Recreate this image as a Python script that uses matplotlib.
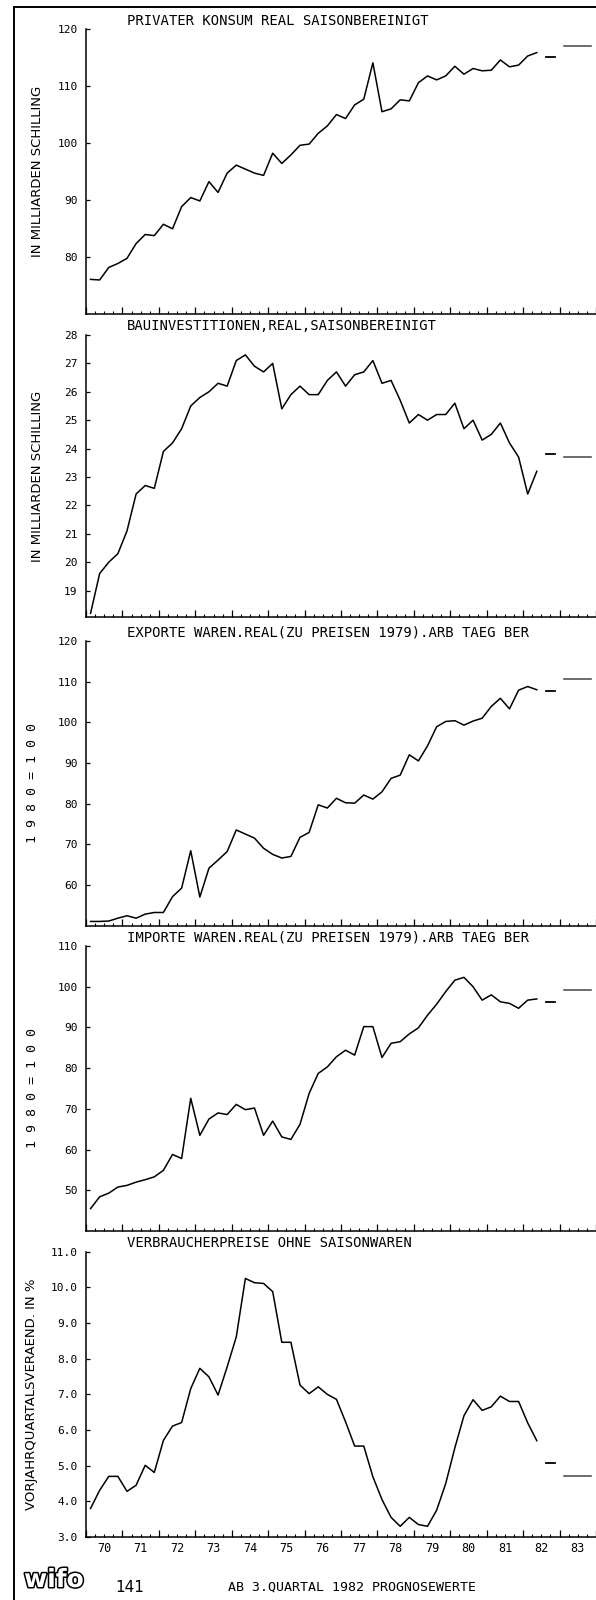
import numpy as np
import matplotlib.pyplot as plt
from matplotlib.lines import Line2D
import matplotlib.patheffects as pe

W, H = 596, 1600
MONO = "DejaVu Sans Mono"

# ── Data: quarterly values 1970Q1 .. 1982Q2 ───────────────────────────────────
konsum = [76.0, 75.9, 78.1, 78.8, 79.7, 82.3, 83.9, 83.7, 85.7, 84.9,
          88.8, 90.4, 89.8, 93.2, 91.3, 94.7, 96.1, 95.4, 94.7, 94.3,
          98.2, 96.4, 97.9, 99.6, 99.8, 101.7, 103.0, 105.0, 104.3, 106.7,
          107.7, 114.1, 105.5, 106.0, 107.6, 107.4, 110.6, 111.8, 111.1, 111.8,
          113.5, 112.1, 113.1, 112.7, 112.8, 114.6, 113.4, 113.7, 115.3, 115.9]
bau = [18.2, 19.6, 20.0, 20.3, 21.1, 22.4, 22.7, 22.6, 23.9, 24.2,
       24.7, 25.5, 25.8, 26.0, 26.3, 26.2, 27.1, 27.3, 26.9, 26.7,
       27.0, 25.4, 25.9, 26.2, 25.9, 25.9, 26.4, 26.7, 26.2, 26.6,
       26.7, 27.1, 26.3, 26.4, 25.7, 24.9, 25.2, 25.0, 25.2, 25.2,
       25.6, 24.7, 25.0, 24.3, 24.5, 24.9, 24.2, 23.7, 22.4, 23.2]
exporte = [51.0, 51.0, 51.1, 51.8, 52.4, 51.8, 52.8, 53.2, 53.2, 57.1,
           59.2, 68.4, 57.0, 64.1, 66.1, 68.2, 73.5, 72.5, 71.5, 69.0,
           67.5, 66.6, 67.0, 71.7, 72.9, 79.7, 78.9, 81.3, 80.2, 80.1,
           82.1, 81.1, 82.9, 86.2, 87.0, 92.0, 90.5, 94.2, 98.9, 100.2,
           100.4, 99.3, 100.3, 101.0, 103.9, 105.9, 103.3, 107.9, 108.8, 108.0]
importe = [45.5, 48.4, 49.3, 50.8, 51.2, 52.0, 52.6, 53.3, 54.9, 58.8,
           57.8, 72.6, 63.5, 67.5, 69.0, 68.6, 71.1, 69.8, 70.2, 63.5,
           67.0, 63.1, 62.5, 66.2, 73.8, 78.7, 80.3, 82.8, 84.4, 83.2,
           90.2, 90.2, 82.6, 86.1, 86.5, 88.4, 89.9, 93.0, 95.7, 98.8,
           101.6, 102.3, 100.0, 96.7, 98.0, 96.3, 95.9, 94.7, 96.7, 97.0]
vpi = [3.80, 4.31, 4.70, 4.70, 4.28, 4.45, 5.01, 4.81, 5.71, 6.11,
       6.21, 7.16, 7.73, 7.49, 6.98, 7.77, 8.61, 10.25, 10.13, 10.11,
       9.88, 8.46, 8.46, 7.26, 7.02, 7.21, 7.00, 6.86, 6.23, 5.55,
       5.55, 4.69, 4.05, 3.55, 3.30, 3.55, 3.35, 3.30, 3.75, 4.50,
       5.50, 6.40, 6.85, 6.55, 6.65, 6.95, 6.80, 6.80, 6.20, 5.70]

# forecast levels: 2nd half 1982, year 1983
konsum_fc = [115.1, 117.1]
bau_fc = [23.8, 23.7]
exporte_fc = [107.7, 110.6]
importe_fc = [96.3, 99.3]
vpi_fc = [5.08, 4.72]

titles = [
    "PRIVATER KONSUM REAL SAISONBEREINIGT",
    "BAUINVESTITIONEN,REAL,SAISONBEREINIGT",
    "EXPORTE WAREN.REAL(ZU PREISEN 1979).ARB TAEG BER",
    "IMPORTE WAREN.REAL(ZU PREISEN 1979).ARB TAEG BER",
    "VERBRAUCHERPREISE OHNE SAISONWAREN",
]
ylabels = ["IN MILLIARDEN SCHILLING", "IN MILLIARDEN SCHILLING",
           "1 9 8 0 = 1 0 0", "1 9 8 0 = 1 0 0",
           "VORJAHRQUARTALSVERAEND. IN %"]
ylims = [(70, 120), (18.07, 28), (50, 120), (40, 110), (3, 11)]
yticks = [[80, 90, 100, 110, 120],
          list(range(19, 29)),
          [60, 70, 80, 90, 100, 110, 120],
          [50, 60, 70, 80, 90, 100, 110],
          [3, 4, 5, 6, 7, 8, 9, 10, 11]]
year_labels = [str(y) for y in range(70, 84)]

series = [konsum, bau, exporte, importe, vpi]
forecasts = [konsum_fc, bau_fc, exporte_fc, importe_fc, vpi_fc]

# ── Layout (pixels) ────────────────────────────────────────────────────────────
panels_px = [(29.3, 313.5), (335, 617), (641, 925.5), (946, 1231), (1251.7, 1537)]
ylab_x = [38, 38, 33, 33, 32]
left_px = 86
px_per_year = 36.87

def fx(px):
    return px / W

def fy(py):
    return 1 - py / H

qx = 1970.125 + 0.25 * np.arange(56)      # mid-quarter positions
x_hist = qx[:50]
x_fc1 = qx[50:52]
x_fc2 = qx[52:56]

fig = plt.figure(figsize=(W / 100, H / 100), dpi=100)

for k, (top, bot) in enumerate(panels_px):
    ax = fig.add_axes([fx(left_px), fy(bot), 1 - fx(left_px), (bot - top) / H])
    ax.plot(x_hist, series[k], color="black", lw=1.1)
    ax.plot(x_fc1, [forecasts[k][0]] * 2, color="black", lw=1.3)
    ax.plot(x_fc2, [forecasts[k][1]] * 4, color="#444444", lw=1.1)

    ax.set_xlim(1970, 1970 + (W - left_px) / px_per_year)
    ax.set_ylim(*ylims[k])
    for s in ["top", "right"]:
        ax.spines[s].set_visible(False)
    ax.spines["left"].set_linewidth(1.1)
    ax.spines["bottom"].set_linewidth(1.1)

    ax.set_xticks(np.arange(1970, 1985))
    ax.set_xticks(np.arange(1970, 1984.01, 0.25), minor=True)
    ax.tick_params(axis="x", which="major", direction="in", length=5, width=0.9,
                   labelbottom=False)
    ax.tick_params(axis="x", which="minor", direction="in", length=2.5, width=0.8)

    ax.set_yticks(yticks[k])
    if k == 4:
        ax.set_yticklabels([f"{v:.1f}" for v in yticks[k]])
    ax.tick_params(axis="y", direction="in", length=3, width=0.9, pad=6,
                   labelsize=8)
    for lab in ax.get_yticklabels():
        lab.set_fontfamily(MONO)

    fig.text(fx(127), fy(top - 8.5), titles[k], fontsize=10, family=MONO,
             ha="left", va="center")
    fig.text(fx(ylab_x[k]), fy((top + bot) / 2), ylabels[k], rotation=90,
             fontsize=9.5, family=MONO if k in (2, 3) else "DejaVu Sans",
             ha="center", va="center")

    if k == 4:
        for i, lab in enumerate(year_labels):
            ax.annotate(lab, xy=(1970.5 + i, 0), xycoords=("data", "axes fraction"),
                        xytext=(0, -8.5), textcoords="offset points",
                        ha="center", va="center", fontsize=8.5, family=MONO)

# outer frame
fig.add_artist(Line2D([fx(14), 1], [fy(7), fy(7)], color="black", lw=1.4))
fig.add_artist(Line2D([fx(14), fx(14)], [fy(7), 0], color="black", lw=1.4))

# footer
fig.text(fx(54), fy(1580), "wifo", fontsize=18, fontweight="bold", color="white",
         ha="center", va="center",
         path_effects=[pe.withStroke(linewidth=2.2, foreground="black")])
fig.text(fx(130), fy(1587), "141", fontsize=11, ha="center", va="center")
fig.text(fx(228), fy(1587), "AB 3.QUARTAL 1982 PROGNOSEWERTE", fontsize=9.5,
         family=MONO, ha="left", va="center")

fig.savefig("out.png", dpi=100)
